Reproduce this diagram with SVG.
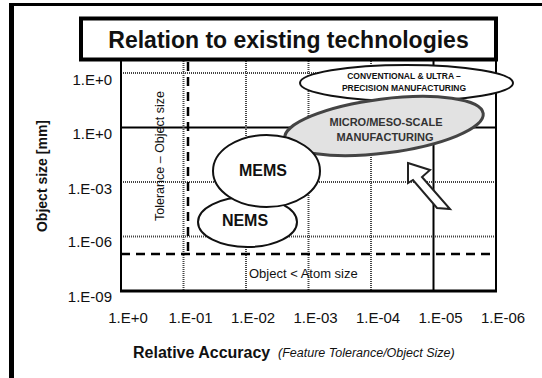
<svg xmlns="http://www.w3.org/2000/svg" width="542" height="378" viewBox="0 0 542 378">
<style>
.solid{stroke:#000;stroke-width:2;fill:none}
.dot{stroke:#444;stroke-width:2;stroke-dasharray:1 1;fill:none}
.dash{stroke:#000;stroke-width:2.5;stroke-dasharray:9 6;fill:none}
.lbl{font-family:"Liberation Sans",Arial,sans-serif;font-size:15px;fill:#111}
.bold{font-family:"Liberation Sans",Arial,sans-serif;font-weight:bold;fill:#111}
.ell{fill:#fff;stroke:#111;stroke-width:2}
</style>
<rect width="542" height="378" fill="#fff"/>
<!-- outer frame -->
<rect x="9" y="3" width="533" height="3" fill="#000"/>
<rect x="9" y="3" width="5" height="375" fill="#000"/>

<!-- grid -->
<g id="grid">
  <line class="dot" x1="121" y1="73" x2="496" y2="73"/>
  <line class="solid" x1="121" y1="127.5" x2="496" y2="127.5"/>
  <line class="dot" x1="121" y1="182" x2="496" y2="182"/>
  <line class="dot" x1="121" y1="236.5" x2="496" y2="236.5"/>
  <line class="dot" x1="183.5" y1="61" x2="183.5" y2="291"/>
  <line class="dot" x1="246" y1="61" x2="246" y2="291"/>
  <line class="dot" x1="308.5" y1="61" x2="308.5" y2="291"/>
  <line class="dot" x1="371" y1="61" x2="371" y2="291"/>
  <line class="solid" x1="433.5" y1="61" x2="433.5" y2="291"/>
  <line class="solid" x1="121" y1="61" x2="121" y2="292"/>
  <line class="solid" x1="496" y1="61" x2="496" y2="292"/>
  <line x1="120" y1="291" x2="497" y2="291" stroke="#000" stroke-width="3"/>
  <line class="dash" x1="188" y1="62" x2="188" y2="254"/>
  <line class="dash" x1="121" y1="254" x2="496" y2="254"/>
  <text class="lbl" font-size="12.5" transform="translate(164,156) rotate(-90)" text-anchor="middle" style="font-size:12.5px">Tolerance – Object size</text>
  <text class="lbl" x="249" y="278" style="font-size:13px">Object &lt; Atom size</text>
</g>

<!-- title -->
<g id="title">
  <rect x="81" y="18.5" width="415" height="41" fill="#fff" stroke="#000" stroke-width="4"/>
  <text class="bold" x="288.5" y="48" text-anchor="middle" style="font-size:23px">Relation to existing technologies</text>
</g>

<!-- axis labels -->
<g id="y-axis">
  <text class="lbl" x="112" y="84.5" text-anchor="end">1.E+0</text>
  <text class="lbl" x="112" y="138.5" text-anchor="end">1.E+0</text>
  <text class="lbl" x="112" y="193.5" text-anchor="end">1.E-03</text>
  <text class="lbl" x="112" y="246.5" text-anchor="end">1.E-06</text>
  <text class="lbl" x="112" y="301.5" text-anchor="end">1.E-09</text>
  <text class="bold" transform="translate(47,176) rotate(-90)" text-anchor="middle" style="font-size:14px">Object size [mm]</text>
</g>
<g id="x-axis">
  <text class="lbl" x="128" y="323" text-anchor="middle">1.E+0</text>
  <text class="lbl" x="190.5" y="323" text-anchor="middle">1.E-01</text>
  <text class="lbl" x="253" y="323" text-anchor="middle">1.E-02</text>
  <text class="lbl" x="315.5" y="323" text-anchor="middle">1.E-03</text>
  <text class="lbl" x="378" y="323" text-anchor="middle">1.E-04</text>
  <text class="lbl" x="440.5" y="323" text-anchor="middle">1.E-05</text>
  <text class="lbl" x="503" y="323" text-anchor="middle">1.E-06</text>
  <text class="bold" x="133" y="358" style="font-size:16px">Relative Accuracy</text>
  <text class="lbl" x="278" y="357" style="font-size:12.5px;font-style:italic">(Feature Tolerance/Object Size)</text>
</g>

<!-- nodes -->
<g id="conventional">
  <ellipse class="ell" cx="406.5" cy="83" rx="106.5" ry="18"/>
  <text class="bold" x="404" y="79" text-anchor="middle" style="font-size:8.5px">CONVENTIONAL &amp; ULTRA –</text>
  <text class="bold" x="404" y="91" text-anchor="middle" style="font-size:8.5px">PRECISION MANUFACTURING</text>
</g>
<g id="micro-meso">
  <ellipse cx="384" cy="126" rx="100" ry="27" transform="rotate(-7.2 384 126)" fill="#e2e2e2" stroke="#444" stroke-width="3"/>
  <text class="bold" x="386" y="126" text-anchor="middle" style="font-size:11px;fill:#333">MICRO/MESO-SCALE</text>
  <text class="bold" x="385" y="141" text-anchor="middle" style="font-size:11px;fill:#333">MANUFACTURING</text>
</g>
<g id="nems">
  <ellipse class="ell" cx="247.5" cy="222" rx="49.5" ry="25"/>
  <text class="bold" x="245" y="226" text-anchor="middle" style="font-size:16px">NEMS</text>
</g>
<g id="mems">
  <ellipse class="ell" cx="266.5" cy="171" rx="53.5" ry="36"/>
  <text class="bold" x="263" y="176" text-anchor="middle" style="font-size:16px">MEMS</text>
</g>

<!-- connectors -->
<g id="connectors">
  <polygon points="408,163 430,170 422,177 450,209 437,208 413,180 408,183" fill="#fff" stroke="#222" stroke-width="2" stroke-linejoin="miter"/>
</g>
</svg>
